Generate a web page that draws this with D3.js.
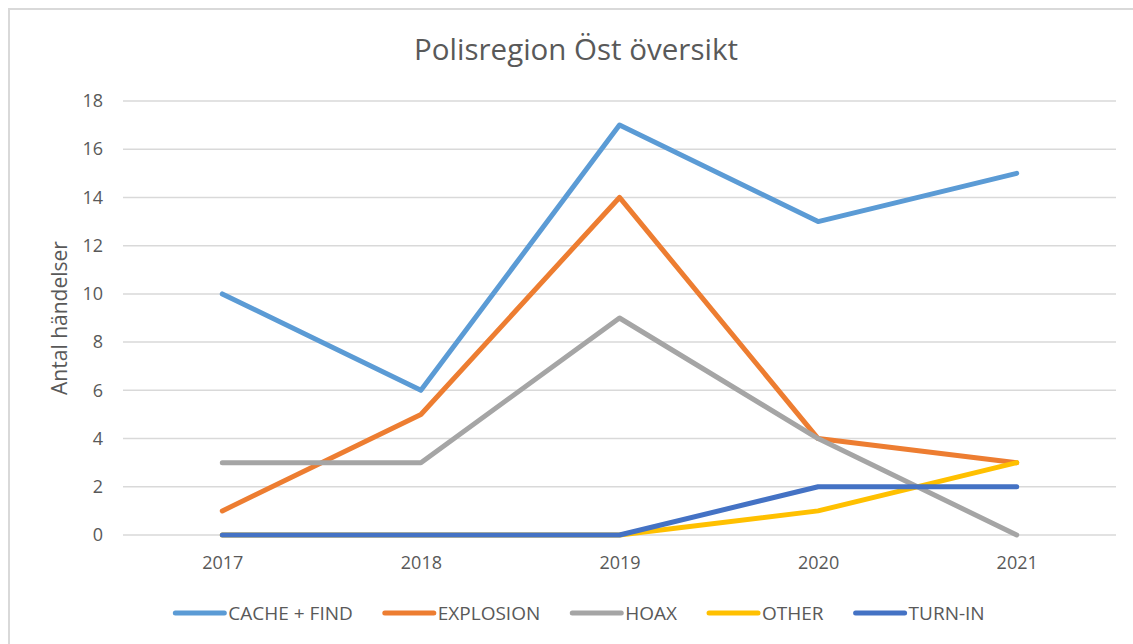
<!DOCTYPE html>
<html lang="sv">
<head>
  <meta charset="UTF-8">
  <title>Polisregion Öst översikt</title>
  <script src="https://d3js.org/d3.v7.min.js"></script>
  <style>
    body { margin: 0; background: #fff; }
    text { font-family: "Open Sans", "Liberation Sans", sans-serif; fill: #595959; }
  </style>
</head>
<body>
  <div id="chart"></div>
  <script>
    const years = ["2017", "2018", "2019", "2020", "2021"];
    const seriesNames = ["CACHE + FIND", "EXPLOSION", "HOAX", "OTHER", "TURN-IN"];
    const cacheFind = [10, 6, 17, 13, 15];
    const explosion = [1, 5, 14, 4, 3];
    const hoax = [3, 3, 9, 4, 0];
    const other = [0, 0, 0, 1, 3];
    const turnIn = [0, 0, 0, 2, 2];
    const yTicks = [0, 2, 4, 6, 8, 10, 12, 14, 16, 18];
    const colors = ["#5B9BD5", "#ED7D31", "#A5A5A5", "#FFC000", "#4472C4"];

    const series = [cacheFind, explosion, hoax, other, turnIn].map((v, i) => ({
      name: seriesNames[i], values: v, color: colors[i]
    }));

    const W = 1133, H = 644;
    const margin = {top: 101, right: 17, bottom: 109, left: 123},
          width = W - margin.left - margin.right,
          height = H - margin.top - margin.bottom;

    const root = d3.select("#chart").append("svg")
      .attr("width", W).attr("height", H);

    // ram runt diagrammet
    root.append("rect")
      .attr("x", 9).attr("y", 9).attr("width", W + 10).attr("height", H + 10)
      .attr("fill", "none").attr("stroke", "#d9d9d9").attr("stroke-width", 2);

    const svg = root.append("g")
      .attr("transform", `translate(${margin.left},${margin.top})`);

    const x = d3.scalePoint().domain(years).range([0, width]).padding(0.5);
    const y = d3.scaleLinear().domain([0, 18]).range([height, 0]);

    // rutnät
    svg.append("g")
      .selectAll("line")
      .data(yTicks)
      .enter().append("line")
      .attr("x1", 0).attr("x2", width)
      .attr("y1", d => y(d)).attr("y2", d => y(d))
      .attr("stroke", "#d9d9d9").attr("stroke-width", 1.5);

    const yAxis = svg.append("g")
      .call(d3.axisLeft(y).tickValues(yTicks).tickSize(0).tickPadding(20));
    yAxis.select(".domain").remove();
    yAxis.selectAll("text").style("font-size", "18px").attr("fill", "#595959");

    const xAxis = svg.append("g")
      .attr("transform", `translate(0,${height})`)
      .call(d3.axisBottom(x).tickSize(0).tickPadding(21));
    xAxis.select(".domain").remove();
    xAxis.selectAll("text").style("font-size", "18px").attr("fill", "#595959");

    const line = d3.line()
      .x((d, i) => x(years[i]))
      .y(d => y(d));

    svg.selectAll(".serie")
      .data(series)
      .enter().append("path")
      .attr("class", "serie")
      .attr("d", d => line(d.values))
      .attr("fill", "none")
      .attr("stroke", d => d.color)
      .attr("stroke-width", 5)
      .attr("stroke-linecap", "round")
      .attr("stroke-linejoin", "round");

    // titel
    root.append("text")
      .attr("x", 576).attr("y", 60)
      .attr("text-anchor", "middle")
      .style("font-size", "29.5px")
      .text("Polisregion Öst översikt");

    // y-axelns titel
    root.append("text")
      .attr("transform", `translate(67,${margin.top + height / 2}) rotate(-90)`)
      .attr("text-anchor", "middle")
      .style("font-size", "21px")
      .text("Antal händelser");

    // legend
    const legend = root.append("g");
    let lx = 0;
    series.forEach(s => {
      const g = legend.append("g").attr("transform", `translate(${lx},0)`);
      g.append("line")
        .attr("x1", 2).attr("x2", 51).attr("y1", 0).attr("y2", 0)
        .attr("stroke", s.color).attr("stroke-width", 5)
        .attr("stroke-linecap", "round");
      const t = g.append("text")
        .attr("x", 55).attr("y", 7)
        .style("font-size", "19px")
        .text(s.name);
      lx += 55 + t.node().getComputedTextLength() + 30;
    });
    const legW = lx - 30;
    legend.attr("transform", `translate(${579 - legW / 2},613)`);
  </script>
</body>
</html>
